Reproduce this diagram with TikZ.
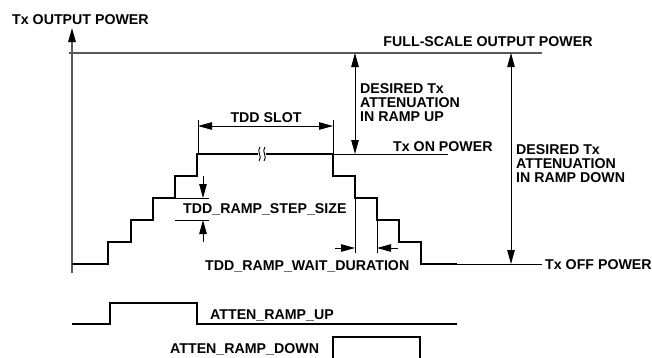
\documentclass[tikz,border=0pt]{standalone}
\usepackage{fontspec}
\setmainfont{Liberation Sans}
\usetikzlibrary{arrows.meta}

\begin{document}
\begin{tikzpicture}[x=1pt,y=-1pt,
  lbl/.style={font=\fontsize{14.2}{14}\selectfont\bfseries, inner sep=0pt},
  axisline/.style={draw=black!65, line width=1.3pt},
  dimline/.style={line width=0.9pt},
  stair/.style={line width=2.2pt, line join=miter},
  tip/.style={-{Triangle[length=14pt,width=7.5pt,color=black]}},
  tips/.style={{Triangle[length=14pt,width=7.5pt]}-{Triangle[length=14pt,width=7.5pt]}}]
\useasboundingbox (0,0) rectangle (652,357);

% axis and reference levels
\coordinate (axbot) at (72,273);
\coordinate (axtop) at (72,28);
\draw[axisline, tip] (axbot) -- (axtop);
\node[lbl, anchor=base west] (yname) at (12,24) {Tx OUTPUT POWER};
\coordinate (fsl) at (69,53);
\coordinate (fsr) at (542,53);
\draw[axisline] (fsl) -- (fsr);
\node[lbl, anchor=base] (fullscale) at (488,46) {FULL-SCALE OUTPUT POWER};
\coordinate (onl) at (333,154);
\coordinate (onr) at (448,154);
\draw[dimline] (onl) -- (onr);
\node[lbl, anchor=base west] (onpower) at (393,151) {Tx ON POWER};
\coordinate (offl) at (457,264);
\coordinate (offr) at (542,264);
\draw[dimline] (offl) -- (offr);
\node[lbl, anchor=base west] (offpower) at (545,269) {Tx OFF POWER};

% staircase
\draw[stair] (72,264) -- (108,264) -- (108,242) -- (131,242) -- (131,220)
  -- (153,220) -- (153,198) -- (175,198) -- (175,176) -- (197,176)
  -- (197,154) -- (333,154) -- (333,176) -- (355,176) -- (355,198)
  -- (377,198) -- (377,220) -- (399,220) -- (399,242) -- (421,242)
  -- (421,264) -- (457,264);
\fill[white] (258,149) rectangle (266,159);
\draw[dimline] (260,147) .. controls (256,151) and (263,157) .. (259,161);
\draw[dimline] (265,147) .. controls (261,151) and (268,157) .. (264,161);

% attenuation arrows
\coordinate (upa) at (355,53);
\coordinate (upb) at (355,154);
\draw[dimline, tips] (upa) -- (upb);
\node[lbl, anchor=west, align=left] (attup) at (360,103) {DESIRED Tx\\ATTENUATION\\IN RAMP UP};
\coordinate (dna) at (511,53);
\coordinate (dnb) at (511,264);
\draw[dimline, tips] (dna) -- (dnb);
\node[lbl, anchor=west, align=left] (attdown) at (516,164) {DESIRED Tx\\ATTENUATION\\IN RAMP DOWN};

% TDD slot
\coordinate (sl) at (198,126);
\coordinate (sr) at (333,126);
\draw[dimline] (198,120) -- (198,154);
\draw[dimline] (333,120) -- (333,154);
\draw[dimline, tips] (sl) -- (sr);
\node[lbl, anchor=base] (slot) at (266,122) {TDD SLOT};

% step size
\draw[dimline] (175,198) -- (209,198);
\draw[dimline] (175,220) -- (209,220);
\coordinate (sza) at (203,176);
\coordinate (szb) at (203,198);
\coordinate (szc) at (203,242);
\coordinate (szd) at (203,220);
\draw[dimline, tip] (sza) -- (szb);
\draw[dimline, tip] (szc) -- (szd);
\node[lbl, anchor=base west] (stepsize) at (183,213) {TDD\_RAMP\_STEP\_SIZE};

% wait duration
\draw[dimline] (355,198) -- (355,253);
\draw[dimline] (377,220) -- (377,253);
\coordinate (wa) at (335,248);
\coordinate (wb) at (355,248);
\coordinate (wc) at (398,248);
\coordinate (wd) at (377,248);
\draw[dimline, tip] (wa) -- (wb);
\draw[dimline, tip] (wc) -- (wd);
\node[lbl, anchor=base west] (wait) at (205,270) {TDD\_RAMP\_WAIT\_DURATION};

% control signals
\draw[line width=1.3pt] (72,324) -- (110,324) -- (110,303) -- (197,303)
  -- (197,324) -- (457,324);
\node[lbl, anchor=base west] (rampup) at (210,319) {ATTEN\_RAMP\_UP};
\draw[line width=1.3pt] (333,358) -- (333,337) -- (420,337) -- (420,358);
\node[lbl, anchor=base west] (rampdown) at (170,353) {ATTEN\_RAMP\_DOWN};
\end{tikzpicture}
\end{document}
